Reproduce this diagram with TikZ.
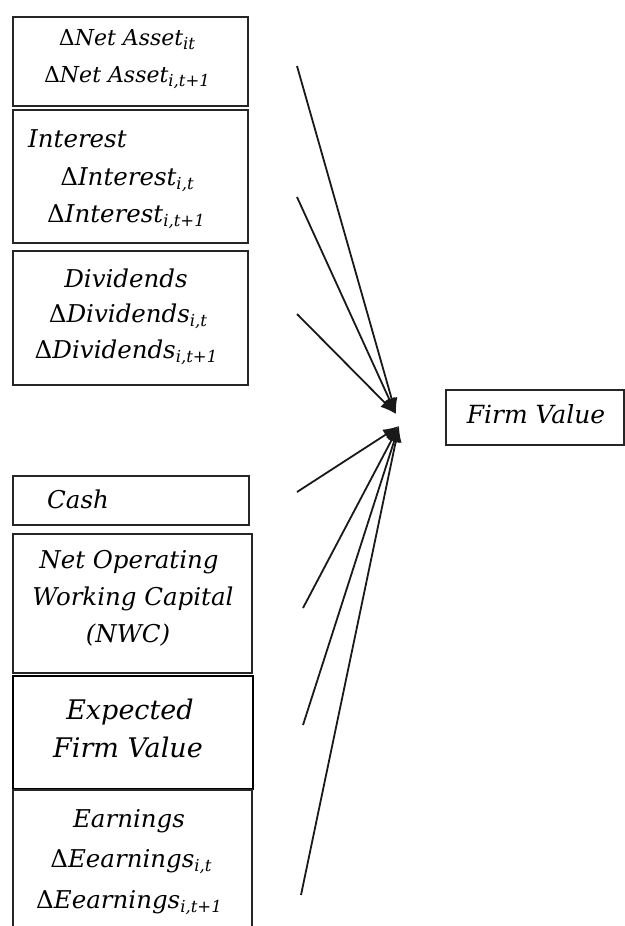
\documentclass[tikz,border=0pt]{standalone}
\usepackage{fontspec}
\setmainfont{DejaVu Serif}
\usetikzlibrary{arrows.meta}
\newcommand\sbx[1]{\raisebox{-4.5pt}{\fontsize{16.5}{16.5}\selectfont #1}}
\newcommand\dlt{\textup{Δ}}
\begin{document}
\begin{tikzpicture}[x=1pt,y=-1pt,
 box/.style={draw=black!85, line width=1.8pt, anchor=north west, inner sep=0pt},
 txt/.style={font=\fontsize{24.5}{24.5}\selectfont\itshape, inner sep=0pt, anchor=base},
 small/.style={font=\fontsize{22}{22}\selectfont\itshape},
 link/.style={draw=black!90, line width=1.8pt, -{Latex[length=16pt,width=12pt]}}]
\useasboundingbox (0,0) rectangle (624,926);
\fill[white] (0,0) rectangle (624,926);
% boxes
\node[box, minimum width=235pt, minimum height=89pt] (b1) at (12,16) {};
\node[box, minimum width=235pt, minimum height=133pt] (b2) at (12,109) {};
\node[box, minimum width=235pt, minimum height=134pt] (b3) at (12,250) {};
\node[box, minimum width=236pt, minimum height=49pt] (b4) at (12,475) {};
\node[box, minimum width=239pt, minimum height=139pt] (b5) at (12,533) {};
\node[box, draw=black, line width=2.2pt, minimum width=240pt, minimum height=113pt] (b6) at (12,675) {};
\node[box, minimum width=239pt, minimum height=170pt] (b7) at (12,789) {};
\node[box, minimum width=178pt, minimum height=55pt] (fv) at (445,389) {};
% texts
\node[txt, small] (t1a) at (127,45) {\dlt Net Asset\sbx{it}};
\node[txt, small] (t1b) at (127,82) {\dlt Net Asset\sbx{i,t+1}};
\node[txt, anchor=base west] (t2a) at (28,147) {Interest};
\node[txt] (t2b) at (127,185) {\dlt Interest\sbx{i,t}};
\node[txt] (t2c) at (126,222) {\dlt Interest\sbx{i,t+1}};
\node[txt] (t3a) at (126,287) {Dividends};
\node[txt] (t3b) at (128,322) {\dlt Dividends\sbx{i,t}};
\node[txt] (t3c) at (126,358) {\dlt Dividends\sbx{i,t+1}};
\node[txt, anchor=base west] (t4) at (47,508) {Cash};
\node[txt] (t5a) at (129,568) {Net Operating};
\node[txt] (t5b) at (133,605) {Working Capital};
\node[txt] (t5c) at (128,642) {(NWC)};
\node[txt, font=\fontsize{27}{27}\selectfont\itshape] (t6a) at (130,719) {Expected};
\node[txt, font=\fontsize{27}{27}\selectfont\itshape] (t6b) at (128,757) {Firm Value};
\node[txt] (t7a) at (129,827) {Earnings};
\node[txt] (t7b) at (131,867) {\dlt Eearnings\sbx{i,t}};
\node[txt] (t7c) at (129,908) {\dlt Eearnings\sbx{i,t+1}};
\node[txt, font=\fontsize{25}{25}\selectfont\itshape] (tfv) at (536,423) {Firm Value};
% connector ends
\coordinate (s1) at (297,66);
\coordinate (s2) at (297,197);
\coordinate (s3) at (297,314);
\coordinate (s4) at (297,492);
\coordinate (s5) at (303,608);
\coordinate (s6) at (303,725);
\coordinate (s7) at (301,895);
\coordinate (hu) at (396,414);
\coordinate (hd) at (399,426);
\draw[link] (s1) -- (hu);
\draw[link] (s2) -- (hu);
\draw[link] (s3) -- (hu);
\draw[link] (s4) -- (hd);
\draw[link] (s5) -- (hd);
\draw[link] (s6) -- (hd);
\draw[link] (s7) -- (hd);
\end{tikzpicture}
\end{document}
